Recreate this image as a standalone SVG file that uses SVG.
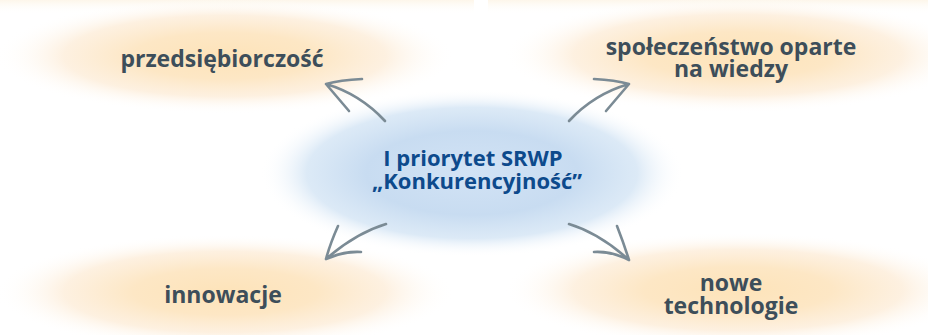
<svg xmlns="http://www.w3.org/2000/svg" width="928" height="335" viewBox="0 0 928 335">
<defs>
<radialGradient id="gOrange" cx="0.5" cy="0.5" r="0.5">
<stop offset="0" stop-color="#fde3b9"/>
<stop offset="0.4" stop-color="#fde7c5"/>
<stop offset="0.7" stop-color="#fdeedb" stop-opacity="0.85"/>
<stop offset="1" stop-color="#ffffff" stop-opacity="0"/>
</radialGradient>
<radialGradient id="gBlue" cx="0.5" cy="0.5" r="0.5">
<stop offset="0" stop-color="#d2e3f5"/>
<stop offset="0.5" stop-color="#c8dcf1"/>
<stop offset="0.78" stop-color="#d6e6f5" stop-opacity="0.85"/>
<stop offset="1" stop-color="#ffffff" stop-opacity="0"/>
</radialGradient>
<linearGradient id="gTop" x1="0" y1="0" x2="0" y2="1">
<stop offset="0" stop-color="#fdf6ea"/>
<stop offset="1" stop-color="#ffffff" stop-opacity="0"/>
</linearGradient>
<style>
.lbl{font-family:"Open Sans","Noto Sans","DejaVu Sans",sans-serif;font-weight:700;font-size:23px;fill:#3d4e5a;text-anchor:middle}
.ctr{font-family:"Open Sans","Noto Sans","DejaVu Sans",sans-serif;font-weight:700;font-size:22px;fill:#0d4a8c;text-anchor:middle}
.arr{fill:none;stroke:#7b8b95;stroke-width:2.6;stroke-linecap:round;stroke-linejoin:round}
</style>
</defs>
<rect width="928" height="335" fill="#ffffff"/>
<rect x="0" y="0" width="474" height="14" fill="url(#gTop)"/>
<rect x="488" y="0" width="440" height="14" fill="url(#gTop)"/>

<g id="node-przedsiebiorczosc">
<ellipse cx="225" cy="56" rx="230" ry="58" fill="url(#gOrange)"/>
<text class="lbl" x="222" y="67">przedsiębiorczość</text>
</g>
<g id="node-spoleczenstwo">
<ellipse cx="738" cy="55" rx="235" ry="58" fill="url(#gOrange)"/>
<text class="lbl" x="731" y="55">społeczeństwo oparte</text>
<text class="lbl" x="731" y="77">na wiedzy</text>
</g>
<g id="node-innowacje">
<ellipse cx="225" cy="292" rx="230" ry="58" fill="url(#gOrange)"/>
<text class="lbl" x="223" y="303">innowacje</text>
</g>
<g id="node-nowe-technologie">
<ellipse cx="738" cy="290" rx="235" ry="58" fill="url(#gOrange)"/>
<text class="lbl" x="731" y="291">nowe</text>
<text class="lbl" x="731" y="314">technologie</text>
</g>
<g id="node-center">
<ellipse cx="472" cy="173" rx="212" ry="84" fill="url(#gBlue)"/>
<text class="ctr" x="473" y="166">I priorytet SRWP</text>
<text class="ctr" x="477" y="189">„Konkurencyjność”</text>
</g>

<g id="connectors">
<path class="arr" d="M385,121 Q360,94 326,84 M362,79 Q340,80 326,84 Q338,98 349,111"/>
<path class="arr" d="M569,121 Q594,94 629,84 M594,79 Q615,80 629,84 Q617,98 606,111"/>
<path class="arr" d="M386,224 Q356,233 326,259 M338,226 Q330,244 326,259 Q344,251 361,252"/>
<path class="arr" d="M569,224 Q599,233 629,260 M617,226 Q624,244 629,260 Q611,251 594,252"/>
</g>
</svg>
